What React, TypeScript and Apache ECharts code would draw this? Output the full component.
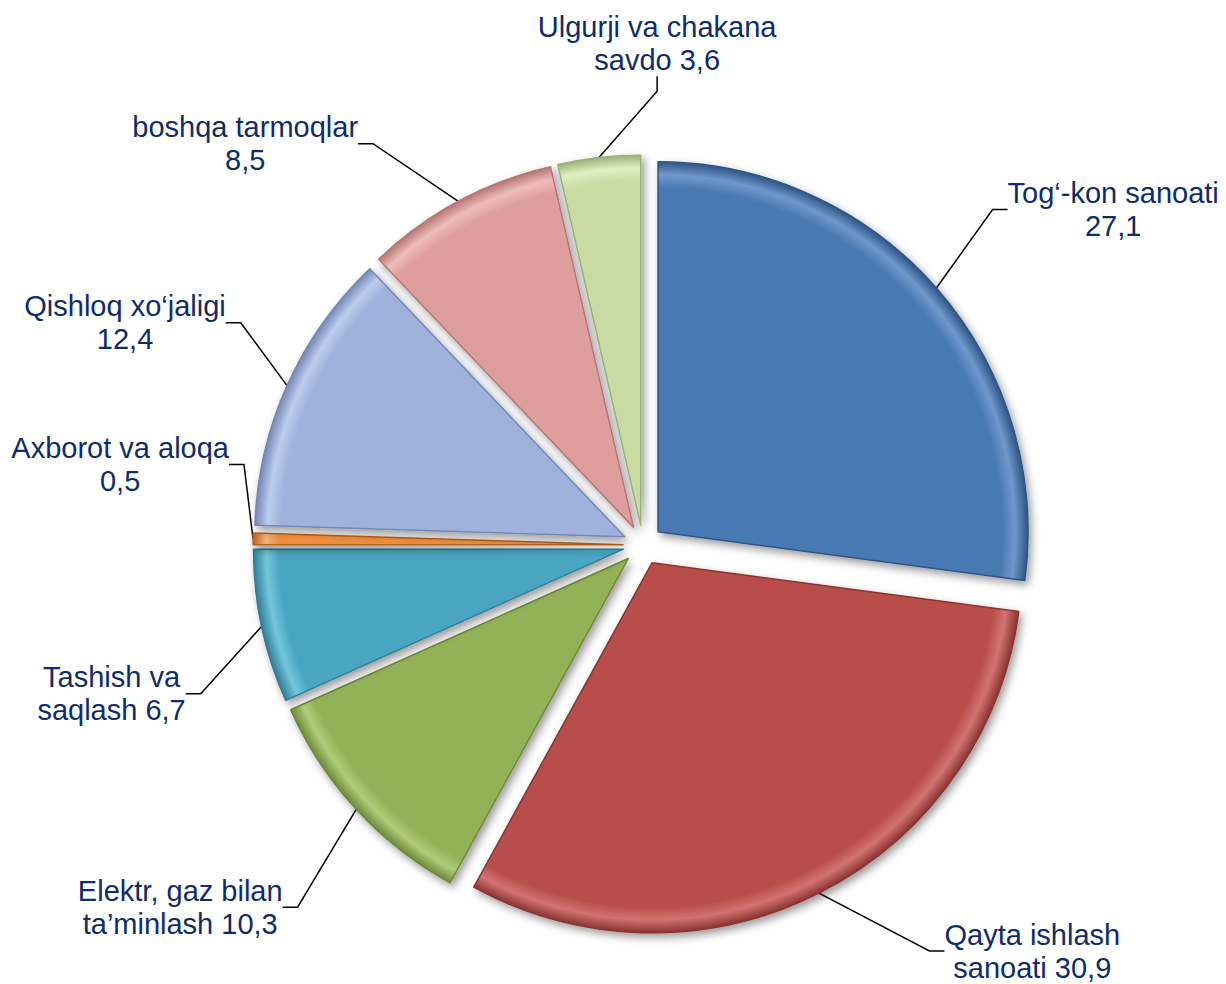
import React, { useEffect, useRef } from "react";
import * as echarts from "echarts";

const labelFirst = [
  "Tog‘-kon sanoati",
  "Qayta ishlash",
  "Elektr, gaz bilan",
  "Tashish va",
  "Axborot va aloqa",
  "Qishloq xo‘jaligi",
  "boshqa tarmoqlar",
  "Ulgurji va chakana",
];
const labelSecond = ["", "sanoati ", "ta’minlash ", "saqlash ", "", "", "", "savdo "];
const values = [27.1, 30.9, 10.3, 6.7, 0.5, 12.4, 8.5, 3.6];
const colors = ["#4A79B2", "#B84D4A", "#93B157", "#4AA5C0", "#F08D3E", "#9EB2DC", "#DE9E9D", "#C7DBA2"];
const lightColors = ["#6F98CC", "#D27371", "#B0CC7A", "#74C6DD", "#F9B07A", "#BCCDEE", "#EEBDBC", "#E0EFC2"];
const darkColors = ["#2E5585", "#8A3432", "#6D8A3A", "#2E7F98", "#B8621E", "#7388B5", "#B67776", "#9AB279"];
// label centre positions (fractions of chart width / height)
const labelPos = [
  [0.908, 0.213],
  [0.842, 0.9665],
  [0.147, 0.922],
  [0.091, 0.705],
  [0.098, 0.472],
  [0.102, 0.328],
  [0.2, 0.146],
  [0.536, 0.044],
];

export default function App() {
  const ref = useRef<HTMLDivElement>(null);
  useEffect(() => {
    document.body.style.margin = "0";
    const chart = echarts.init(ref.current!, undefined, { renderer: "svg" });
    const W = 1226;
    const H = 984;
    const CX = 643;
    const CY = 545;
    const R = 370;
    const OFF = 20;
    const total = values.reduce((a, b) => a + b, 0);
    let acc = 0;
    const series = values.map((v, i) => {
      const mid = ((acc + v / 2) / total) * Math.PI * 2;
      acc += v;
      const cx = CX + OFF * Math.sin(mid);
      const cy = CY - OFF * Math.cos(mid);
      const fill = {
        type: "radial",
        x: cx,
        y: cy,
        r: R,
        global: true,
        colorStops: [
          { offset: 0, color: colors[i] },
          { offset: 0.93, color: colors[i] },
          { offset: 0.965, color: lightColors[i] },
          { offset: 1, color: darkColors[i] },
        ],
      };
      return {
        type: "pie",
        center: [cx, cy],
        radius: R,
        startAngle: 90,
        clockwise: true,
        silent: true,
        emphasis: { disabled: true },
        avoidLabelOverlap: false,
        data: values.map((vv, j) => ({
          name: (labelFirst[j] + " " + labelSecond[j]).trim(),
          value: vv,
          itemStyle:
            j === i
              ? {
                  color: fill,
                  borderColor: darkColors[j],
                  borderWidth: 1.5,
                  shadowColor: "rgba(0,0,0,0.4)",
                  shadowBlur: 8,
                  shadowOffsetX: 3,
                  shadowOffsetY: 4,
                }
              : { color: "rgba(0,0,0,0)", borderWidth: 0 },
          label: {
            show: j === i,
            formatter: labelFirst[j] + "\n" + labelSecond[j] + vv.toFixed(1).replace(".", ","),
          },
          labelLine: { show: j === i },
        })),
        label: {
          position: "outside",
          color: "#0E2C6A",
          fontFamily: "Liberation Sans, Arial, sans-serif",
          fontSize: 29,
          lineHeight: 33,
          align: "center",
        },
        labelLine: {
          length: 20,
          length2: 15,
          lineStyle: { color: "#000000", width: 1.5 },
        },
        labelLayout: (p: any) => {
          if (p.dataIndex !== i) return {};
          const pos = labelPos[i];
          return {
            x: pos[0] * W,
            y: pos[1] * H,
            align: "center",
            verticalAlign: "middle",
          };
        },
      };
    });
    chart.setOption({
      animation: false,
      backgroundColor: "#ffffff",
      series,
    });
    return () => chart.dispose();
  }, []);
  return <div ref={ref} style={{ width: 1226, height: 984 }} />;
}
